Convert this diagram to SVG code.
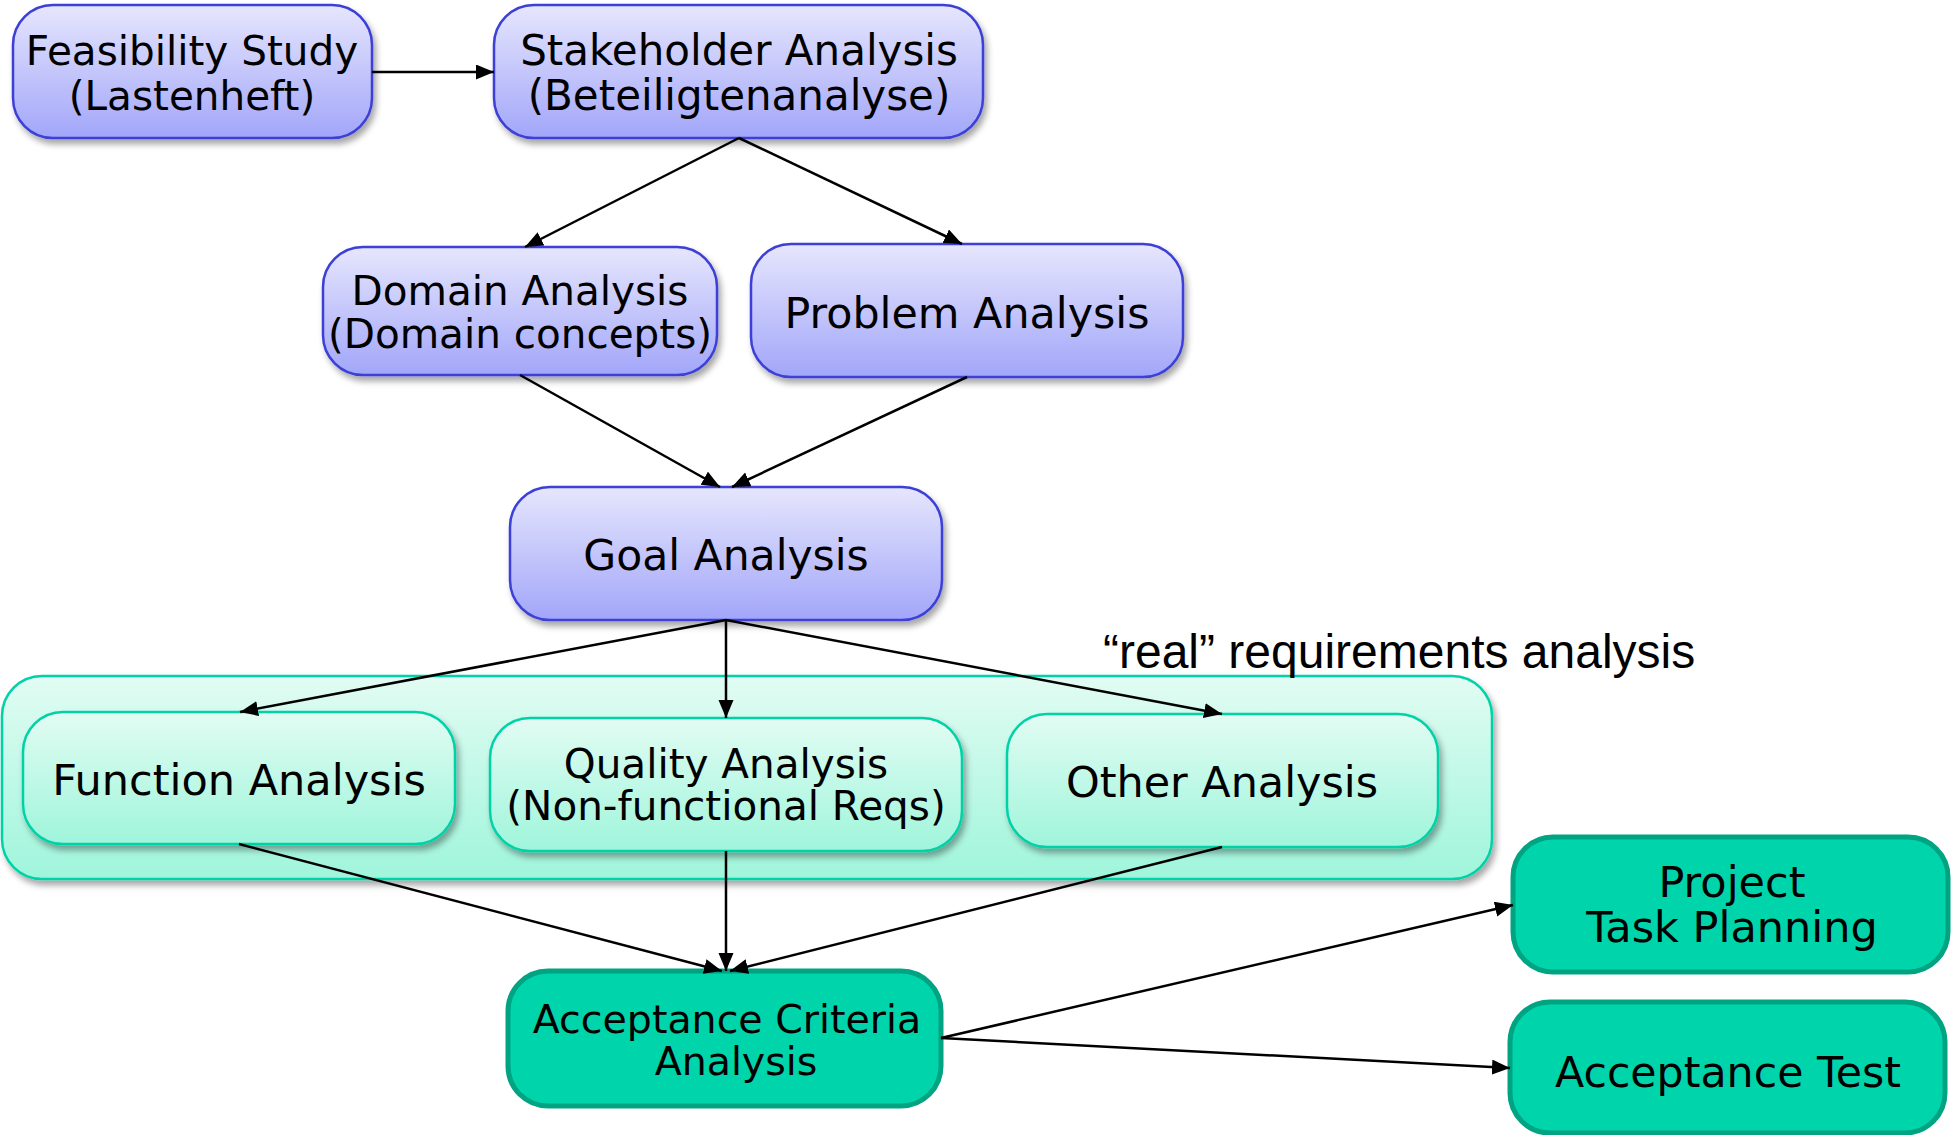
<svg xmlns="http://www.w3.org/2000/svg" width="1955" height="1135" viewBox="0 0 1955 1135">
<style>
.t{font-family:"DejaVu Sans","Verdana",sans-serif;font-size:41px;fill:#000;text-anchor:middle}
.lbl{font-family:"Liberation Sans",Arial,sans-serif;font-size:48px;fill:#000}
.blue{fill:url(#gBlue);stroke:#3c3fd6;stroke-width:2.5}
.lt{fill:url(#gTeal);stroke:#00d2a8;stroke-width:2.5}
.dk{fill:#00d4aa;stroke:#00a382;stroke-width:5}
.c{stroke:#000;stroke-width:2.5;fill:none;marker-end:url(#arr)}
</style>
<defs>
<linearGradient id="gBlue" x1="0" y1="0" x2="0" y2="1">
<stop offset="0" stop-color="#e6e6fd"/><stop offset="1" stop-color="#a2a6f9"/>
</linearGradient>
<linearGradient id="gTeal" x1="0" y1="0" x2="0" y2="1">
<stop offset="0" stop-color="#e2fcf3"/><stop offset="1" stop-color="#9ff5db"/>
</linearGradient>
<filter id="sh" x="-10%" y="-10%" width="125%" height="135%">
<feDropShadow dx="3" dy="5" stdDeviation="3" flood-color="#000" flood-opacity="0.35"/>
</filter>
<marker id="arr" markerUnits="userSpaceOnUse" markerWidth="19" markerHeight="16" refX="18" refY="7.5" orient="auto">
<path d="M0,0 L18,7.5 L0,15 z" fill="#000"/>
</marker>
</defs>

<g id="group-real">
<rect x="2" y="676" width="1490" height="203" rx="40" class="lt" filter="url(#sh)"/>
<text class="lbl" x="1103" y="668">“real” requirements analysis</text>
</g>

<g id="feasibility">
<rect x="13" y="5" width="359" height="133" rx="40" class="blue" filter="url(#sh)"/>
<text class="t" x="192" y="65" style="font-size:40.5px">Feasibility Study</text>
<text class="t" x="192" y="110" style="font-size:40.5px">(Lastenheft)</text>
</g>
<g id="stakeholder">
<rect x="494" y="5" width="489" height="133" rx="40" class="blue" filter="url(#sh)"/>
<text class="t" x="739" y="65" style="font-size:42px">Stakeholder Analysis</text>
<text class="t" x="739" y="110" style="font-size:42px">(Beteiligtenanalyse)</text>
</g>
<g id="domain">
<rect x="323" y="247" width="394" height="128" rx="40" class="blue" filter="url(#sh)"/>
<text class="t" x="520" y="305" style="font-size:40.5px">Domain Analysis</text>
<text class="t" x="520" y="348" style="font-size:40.5px">(Domain concepts)</text>
</g>
<g id="problem">
<rect x="751" y="244" width="432" height="133" rx="40" class="blue" filter="url(#sh)"/>
<text class="t" x="967" y="328" style="font-size:42.8px">Problem Analysis</text>
</g>
<g id="goal">
<rect x="510" y="487" width="432" height="133" rx="40" class="blue" filter="url(#sh)"/>
<text class="t" x="726" y="570" style="font-size:42.5px">Goal Analysis</text>
</g>
<g id="function">
<rect x="23" y="712" width="432" height="132" rx="40" class="lt" filter="url(#sh)"/>
<text class="t" x="239" y="795" style="font-size:43px">Function Analysis</text>
</g>
<g id="quality">
<rect x="490" y="718" width="472" height="133" rx="40" class="lt" filter="url(#sh)"/>
<text class="t" x="726" y="778" style="font-size:40.5px">Quality Analysis</text>
<text class="t" x="726" y="820" style="font-size:40.5px">(Non-functional Reqs)</text>
</g>
<g id="other">
<rect x="1007" y="714" width="431" height="133" rx="40" class="lt" filter="url(#sh)"/>
<text class="t" x="1222" y="797" style="font-size:42.9px">Other Analysis</text>
</g>
<g id="acceptance-criteria">
<rect x="508" y="971" width="433" height="135" rx="40" class="dk"/>
<text class="t" x="727" y="1033" style="font-size:39.5px">Acceptance Criteria</text>
<text class="t" x="736" y="1075" style="font-size:39.5px">Analysis</text>
</g>
<g id="project-planning">
<rect x="1513" y="837" width="435" height="135" rx="40" class="dk"/>
<text class="t" x="1732" y="897" style="font-size:43px">Project</text>
<text class="t" x="1732" y="942" style="font-size:43px">Task Planning</text>
</g>
<g id="acceptance-test">
<rect x="1510" y="1002" width="435" height="131" rx="40" class="dk"/>
<text class="t" x="1728" y="1087" style="font-size:42.7px">Acceptance Test</text>
</g>

<g id="connectors">
<line class="c" x1="372" y1="72" x2="494" y2="72"/>
<line class="c" x1="739" y1="138" x2="525" y2="247"/>
<line class="c" x1="739" y1="138" x2="962" y2="244"/>
<line class="c" x1="520" y1="375" x2="720" y2="487"/>
<line class="c" x1="967" y1="377" x2="732" y2="487"/>
<line class="c" x1="726" y1="620" x2="240" y2="712"/>
<line class="c" x1="726" y1="620" x2="726" y2="718"/>
<line class="c" x1="726" y1="620" x2="1222" y2="714"/>
<line class="c" x1="239" y1="844" x2="722" y2="971"/>
<line class="c" x1="726" y1="851" x2="726" y2="971"/>
<line class="c" x1="1222" y1="847" x2="730" y2="971"/>
<line class="c" x1="941" y1="1038" x2="1513" y2="905"/>
<line class="c" x1="941" y1="1038" x2="1510" y2="1068"/>
</g>
</svg>
